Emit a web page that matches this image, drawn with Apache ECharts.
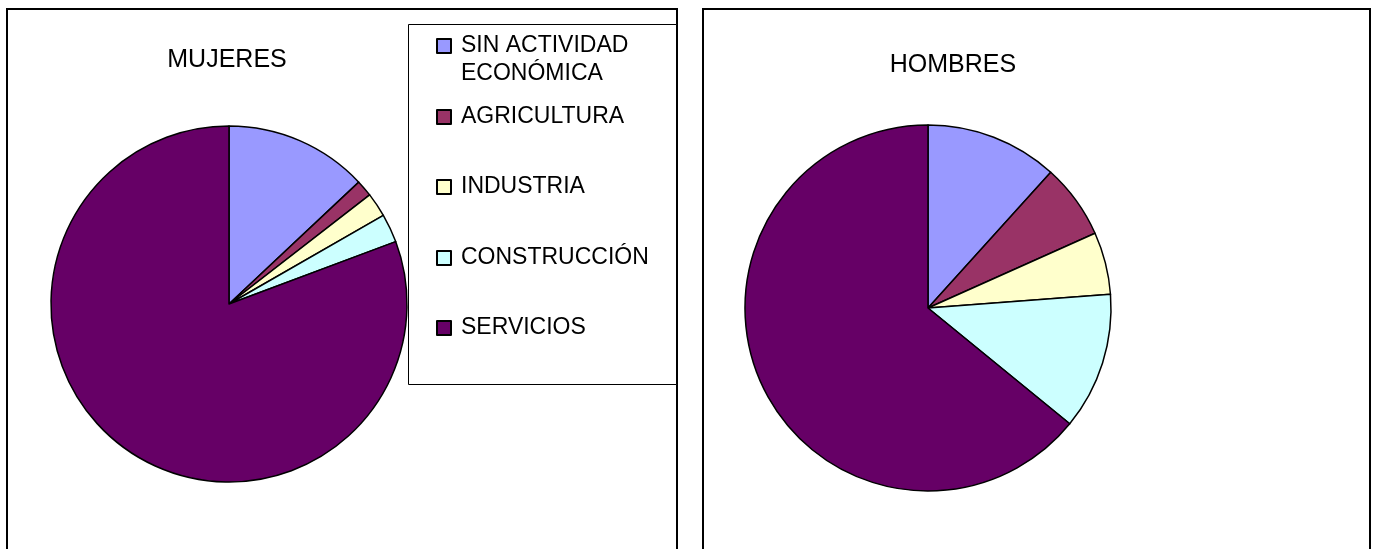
<!DOCTYPE html>
<html>
<head>
<meta charset="utf-8">
<script src="https://cdn.jsdelivr.net/npm/echarts@6/dist/echarts.min.js"></script>
<style>
  html, body { margin: 0; padding: 0; background: #fff; }
  #chart { width: 1377px; height: 549px; }
</style>
</head>
<body>
<div id="chart"></div>
<script>
const categories = ["SIN ACTIVIDAD\nECONÓMICA", "AGRICULTURA", "INDUSTRIA", "CONSTRUCCIÓN", "SERVICIOS"];
const colors = ["#9999ff", "#993366", "#ffffcc", "#ccffff", "#660066"];
const mujeres = [13.0, 1.5, 2.2, 2.6, 80.7];
const hombres = [11.7, 6.6, 5.5, 12.1, 64.1];

function toData(values) {
  return categories.map(function (name, i) {
    return { name: name, value: values[i], itemStyle: { color: colors[i] } };
  });
}

const font = "Arial, 'Liberation Sans', sans-serif";

// one legend per item so each row can sit where it sits in the picture
const legendCenters = [46, 117, 187, 258, 328];
const legends = categories.map(function (name, i) {
  const multi = name.indexOf("\n") >= 0;
  return {
    data: [name],
    orient: "vertical",
    left: 436,
    top: multi ? legendCenters[i] - 42 : legendCenters[i] - 14,
    padding: 0,
    itemWidth: 14,
    itemHeight: 14,
    icon: "rect",
    selectedMode: false,
    // empty first line keeps the icon beside the first line of a two-line name
    formatter: multi ? function (n) { return "\n" + n; } : "{name}",
    textStyle: {
      color: "#000",
      fontFamily: font,
      fontSize: 23,
      lineHeight: 28,
      padding: [0, 0, 0, 5]
    }
  };
});

const chart = echarts.init(document.getElementById("chart"));
chart.setOption({
  animation: false,
  backgroundColor: "#fff",
  title: [
    { text: "MUJERES", left: 227, top: 48, padding: 0, textAlign: "center", textVerticalAlign: "top",
      textStyle: { fontFamily: font, fontSize: 25, fontWeight: "normal", color: "#000" } },
    { text: "HOMBRES", left: 953, top: 53, padding: 0, textAlign: "center", textVerticalAlign: "top",
      textStyle: { fontFamily: font, fontSize: 25, fontWeight: "normal", color: "#000" } }
  ],
  legend: legends,
  graphic: [
    { type: "rect", z: -1, shape: { x: 7, y: 9, width: 670, height: 560 },
      style: { fill: "none", stroke: "#000", lineWidth: 2 } },
    { type: "rect", z: -1, shape: { x: 703, y: 9, width: 667, height: 560 },
      style: { fill: "none", stroke: "#000", lineWidth: 2 } },
    { type: "rect", z: -1, shape: { x: 408.5, y: 24.5, width: 268, height: 360 },
      style: { fill: "#fff", stroke: "#000", lineWidth: 1 } }
  ],
  series: [
    {
      name: "MUJERES", type: "pie", center: [229, 304], radius: 178,
      startAngle: 90, clockwise: true, label: { show: false }, labelLine: { show: false },
      itemStyle: { borderColor: "#000", borderWidth: 1.5 },
      emphasis: { disabled: true },
      data: toData(mujeres)
    },
    {
      name: "HOMBRES", type: "pie", center: [928, 308], radius: 183,
      startAngle: 90, clockwise: true, label: { show: false }, labelLine: { show: false },
      itemStyle: { borderColor: "#000", borderWidth: 1.5 },
      emphasis: { disabled: true },
      data: toData(hombres)
    }
  ]
});
</script>
</body>
</html>
